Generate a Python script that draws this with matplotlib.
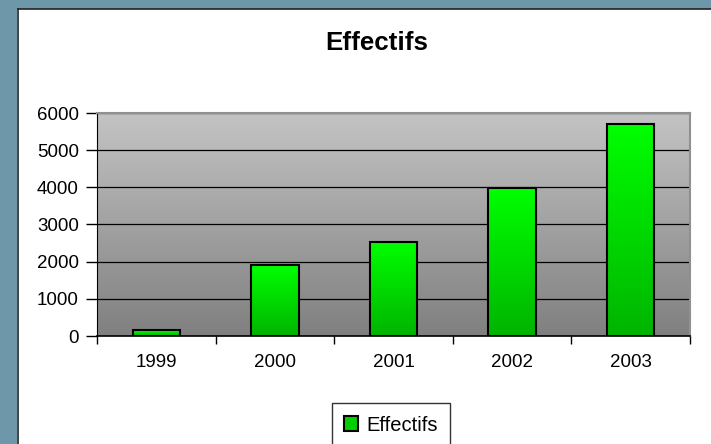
import numpy as np
import matplotlib.pyplot as plt
from matplotlib.patches import Rectangle
from matplotlib.lines import Line2D

plt.rcParams['font.family'] = ['Liberation Sans', 'DejaVu Sans']

years = ['1999', '2000', '2001', '2002', '2003']
effectifs = [150, 1910, 2530, 3980, 5700]

fig = plt.figure(figsize=(7.11, 4.44), dpi=100)
fig.patch.set_facecolor('white')

# blue-gray frame on the left and top, with a dark inner line
W, H = 711, 444
fig.patches.append(Rectangle((0, 0), 17 / W, 1, transform=fig.transFigure,
                             facecolor='#6f97aa', edgecolor='none', zorder=0))
fig.patches.append(Rectangle((0, 1 - 9 / H), 1, 9 / H, transform=fig.transFigure,
                             facecolor='#6f97aa', edgecolor='none', zorder=0))
fig.lines.append(Line2D([17.5 / W, 17.5 / W], [0, 1 - 9 / H], transform=fig.transFigure,
                        color='#222222', lw=1.2))
fig.lines.append(Line2D([17.5 / W, 1], [1 - 9.5 / H, 1 - 9.5 / H], transform=fig.transFigure,
                        color='#222222', lw=1.2))

ax = fig.add_axes([97 / W, (H - 336) / H, (690 - 97) / W, (336 - 113) / H])
x = np.arange(len(years))
xmin, xmax = -0.5, len(years) - 0.5

# gray gradient background, light at top
grad = np.linspace(0, 1, 256).reshape(-1, 1)
bg = plt.cm.colors.LinearSegmentedColormap.from_list('bg', ['#c4c4c4', '#808080'])
ax.imshow(grad, extent=(xmin, xmax, 0, 6000), cmap=bg, aspect='auto', zorder=0)

for yv in range(1000, 6001, 1000):
    ax.axhline(yv, color='black', lw=0.9, zorder=1)

bars = ax.bar(x, effectifs, width=0.4, facecolor='none', edgecolor='black', lw=1.5, zorder=3)
green = plt.cm.colors.LinearSegmentedColormap.from_list('gr', ['#00ff00', '#00b400'])
for b in bars:
    x0, w, h = b.get_x(), b.get_width(), b.get_height()
    im = ax.imshow(grad, extent=(x0, x0 + w, 0, h), cmap=green, aspect='auto', zorder=2)
    im.set_clip_path(b)

ax.set_xlim(xmin, xmax)
ax.set_ylim(0, 6000)
ax.set_yticks(range(0, 6001, 1000))

ax.set_xticks(x)
ax.set_xticklabels(years, fontsize=13.5)
ax.set_xticks(np.arange(-0.5, len(years)), minor=True)
ax.tick_params(axis='x', which='major', length=0, pad=13)
ax.tick_params(axis='x', which='minor', length=6, width=1, direction='out')
ax.tick_params(axis='y', length=8, width=1, direction='out', pad=5, labelsize=13.5)

for s in ['top', 'right']:
    ax.spines[s].set_color('#909090')
    ax.spines[s].set_linewidth(1.5)
ax.spines['left'].set_color('black')
ax.spines['bottom'].set_color('black')
ax.spines['bottom'].set_linewidth(1.2)

fig.text(377 / W, 1 - 43 / H, 'Effectifs', fontsize=18.7, fontweight='bold',
         ha='center', va='center')

handle = Rectangle((0, 0), 1, 1, facecolor='#00d000', edgecolor='black', lw=1.5)
leg = fig.legend([handle], ['Effectifs'], loc='center', bbox_to_anchor=(391 / W, 1 - 425 / H),
                 fontsize=14.5, frameon=True, fancybox=False, edgecolor='black',
                 handlelength=0.7, handleheight=0.7, handletextpad=0.4, borderpad=0.6)
leg.get_frame().set_linewidth(1)

fig.savefig('out.png', dpi=100)
